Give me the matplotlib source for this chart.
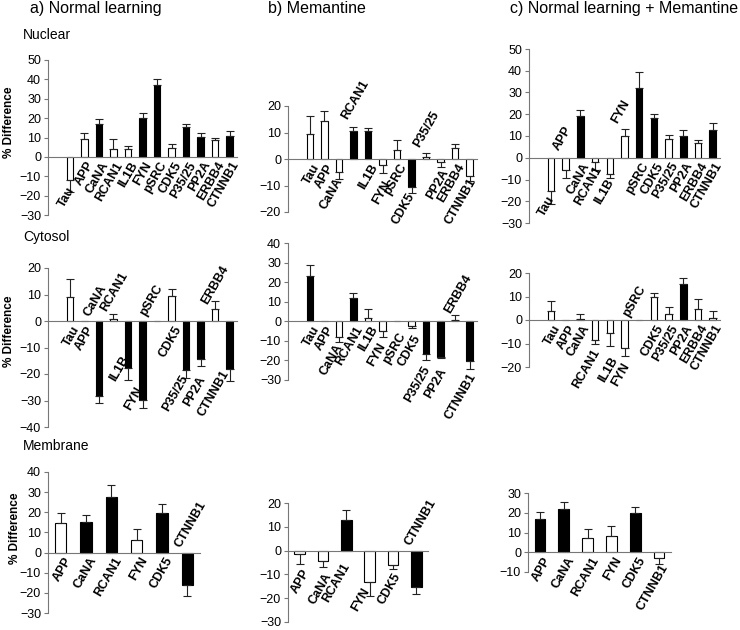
import matplotlib
matplotlib.use('Agg')
import matplotlib.pyplot as plt
import matplotlib.transforms as mtransforms
import numpy as np

plt.rcParams['font.family'] = ['Liberation Sans', 'DejaVu Sans']

W, H = 740, 630

genes = ['Tau', 'APP', 'CaNA', 'RCAN1', 'IL1B', 'FYN', 'pSRC', 'CDK5',
         'P35/25', 'PP2A', 'ERBB4', 'CTNNB1']
mem_genes = ['APP', 'CaNA', 'RCAN1', 'FYN', 'CDK5', 'CTNNB1']

# Nuclear
nuc_a = [-11.7, 9.1, 16.9, 4.0, 4.0, 20.3, 37.0, 4.8, 15.5, 10.2, 8.6, 11.0]
nuc_a_err = [6.5, 3.3, 2.4, 5.0, 1.5, 2.1, 3.4, 2.1, 1.7, 2.2, 1.4, 2.4]
nuc_a_sig = [0, 0, 1, 0, 0, 1, 1, 0, 1, 1, 0, 1]

nuc_b = [9.5, 14.5, -4.8, 10.7, 10.5, -2.3, 3.5, -10.7, 0.8, -1.0, 4.2, -6.3]
nuc_b_err = [6.8, 3.7, 2.8, 1.4, 1.2, 3.0, 3.8, 2.3, 1.5, 2.2, 1.3, 2.1]
nuc_b_sig = [0, 0, 0, 1, 1, 0, 0, 1, 0, 0, 0, 0]

nuc_c = [-15.3, -5.5, 19.0, -2.1, -7.7, 9.8, 32.2, 18.2, 8.4, 10.0, 6.6, 12.9]
nuc_c_err = [5.8, 3.8, 3.0, 3.7, 1.5, 3.5, 7.0, 2.0, 2.2, 2.9, 1.7, 2.9]
nuc_c_sig = [0, 0, 1, 0, 0, 0, 1, 1, 0, 1, 0, 1]

# Cytosol
cyt_a = [9.0, 0, -28.3, 0.9, -17.9, -29.8, 0, 9.6, -18.5, -14.5, 4.5, -18.3]
cyt_a_err = [7.0, 0, 2.5, 1.6, 4.4, 3.1, 0, 2.5, 2.9, 2.5, 3.1, 4.2]
cyt_a_sig = [0, 0, 1, 0, 1, 1, 0, 0, 1, 1, 0, 1]

cyt_b = [23.3, 0, -7.8, 11.9, 1.7, -4.8, 0, -2.2, -16.6, -18.0, 0.7, -20.5]
cyt_b_err = [5.4, 0, 2.6, 2.5, 4.6, 3.3, 0, 1.2, 3.1, 0.8, 2.7, 3.8]
cyt_b_sig = [1, 0, 0, 1, 0, 0, 0, 0, 1, 1, 0, 1]

cyt_c = [4.0, 0, 0.6, -8.4, -5.4, -11.8, 0, 9.8, 2.7, 15.2, 4.7, 0.9]
cyt_c_err = [4.1, 0, 1.8, 2.0, 5.7, 3.5, 0, 1.8, 2.8, 2.5, 4.1, 2.8]
cyt_c_sig = [0, 0, 0, 0, 0, 0, 0, 0, 0, 1, 0, 0]

# Membrane
mem_a = [14.8, 15.2, 27.5, 6.3, 19.8, -16.1]
mem_a_err = [5.0, 3.3, 5.9, 5.2, 4.1, 5.3]
mem_a_sig = [0, 1, 1, 0, 1, 1]

mem_b = [-1.6, -4.2, 12.9, -13.3, -6.2, -15.5]
mem_b_err = [4.0, 2.9, 4.1, 5.6, 1.6, 2.6]
mem_b_sig = [0, 0, 1, 0, 0, 1]

mem_c = [16.7, 22.1, 7.1, 8.3, 19.7, -3.0]
mem_c_err = [3.9, 3.5, 4.5, 5.2, 3.1, 3.1]
mem_c_sig = [1, 1, 0, 0, 1, 0]

# label placement (dx, y, side) for labels not sitting just under the axis
nuc_a_lab = {'Tau': (-0.2, -13, 'below')}
nuc_b_lab = {'CaNA': (-0.3, -5.5, 'below'), 'RCAN1': (-0.25, 14, 'above'),
             'FYN': (0, -6.5, 'below'), 'CDK5': (-0.35, -11, 'below'),
             'P35/25': (-0.3, 3.5, 'above'), 'PP2A': (0, -2, 'below'),
             'CTNNB1': (-0.1, -5.5, 'below')}
nuc_c_lab = {'Tau': (-0.3, -15.5, 'below'), 'APP': (-0.27, 2.5, 'above'),
             'RCAN1': (-0.1, -1.5, 'below'), 'IL1B': (-0.25, -7.5, 'below'),
             'FYN': (-0.35, 15, 'above')}
cyt_a_lab = {'CaNA': (-0.45, 1, 'above'), 'RCAN1': (-0.3, 3, 'above'),
             'IL1B': (-0.5, -11.5, 'below'), 'FYN': (-0.55, -23, 'below'),
             'pSRC': (-0.6, 1, 'above'), 'P35/25': (-0.4, -18.5, 'below'),
             'PP2A': (-0.22, -19, 'below'), 'ERBB4': (-0.35, 5.5, 'above'),
             'CTNNB1': (-0.6, -17, 'below')}
cyt_b_lab = {'CaNA': (-0.3, -9, 'below'), 'FYN': (-0.3, -8.5, 'below'),
             'pSRC': (0.05, -3.5, 'below'), 'CDK5': (0.05, -4.5, 'below'),
             'P35/25': (-0.3, -20.5, 'below'), 'PP2A': (-0.15, -21.5, 'below'),
             'ERBB4': (-0.15, 3, 'above'), 'CTNNB1': (-0.12, -24, 'below')}
cyt_c_lab = {'RCAN1': (-0.2, -10.4, 'below'), 'IL1B': (0, -13.5, 'below'),
             'FYN': (-0.15, -16, 'below'), 'pSRC': (-0.55, 0.6, 'above')}
mem_a_lab = {'CTNNB1': (-0.15, 1.5, 'above')}
mem_b_lab = {'APP': (0.1, -6, 'below'), 'CaNA': (0.05, -7.5, 'below'),
             'RCAN1': (-0.2, -3.4, 'below'), 'FYN': (-0.35, -13.5, 'below'),
             'CDK5': (0, -7.5, 'below'), 'CTNNB1': (-0.15, 1.4, 'above')}
mem_c_lab = {'CTNNB1': (0.05, -3.5, 'below')}

fig = plt.figure(figsize=(W / 100, H / 100), dpi=100)
axis_col = '#777777'


def panel(l, r, t, b, names, vals, errs, sig, ylim, lab, ylabel=False):
    ax = fig.add_axes([l / W, 1 - b / H, (r - l) / W, (b - t) / H])
    n = len(names)
    x = np.arange(1, n + 1)
    vals = np.array(vals, dtype=float)
    errs = np.array(errs, dtype=float)
    cols = ['black' if s else 'white' for s in sig]
    ax.bar(x, vals, width=0.45, color=cols, edgecolor='black', linewidth=0.8, zorder=2)
    m = errs > 0
    lo = np.where(vals < 0, errs, 0)
    hi = np.where(vals >= 0, errs, 0)
    ax.errorbar(x[m], vals[m], yerr=[lo[m], hi[m]], fmt='none', ecolor='#222222',
                elinewidth=0.8, capsize=3, capthick=0.8, zorder=3)
    if n == 12:
        ax.set_xlim(-0.5, 12.5)
    else:
        ax.set_xlim(0.5, n + 0.5)
    ax.set_ylim(*ylim)
    ax.set_yticks(np.arange(ylim[0], ylim[1] + 1, 10))
    ax.tick_params(axis='y', labelsize=9, length=3, width=0.8, color=axis_col, pad=2)
    ax.set_xticks([])
    for s in ['top', 'right']:
        ax.spines[s].set_visible(False)
    ax.spines['left'].set_color(axis_col)
    ax.spines['left'].set_linewidth(0.8)
    ax.spines['bottom'].set_position(('data', 0))
    ax.spines['bottom'].set_color(axis_col)
    ax.spines['bottom'].set_linewidth(0.8)
    ax.patch.set_visible(False)
    down = ax.transData + mtransforms.ScaledTranslation(0, -2 / 72, fig.dpi_scale_trans)
    for xi, name in zip(x, names):
        dx, y, side = lab.get(name, (0.12, 0, 'below'))
        if side == 'below':
            ax.text(xi + dx, y, name, rotation=60, rotation_mode='anchor', ha='right',
                    va='top', fontsize=9, fontweight='bold', transform=down)
        else:
            ax.text(xi + dx, y, name, rotation=60, rotation_mode='anchor', ha='left',
                    va='bottom', fontsize=9, fontweight='bold')
    if ylabel:
        ax.set_ylabel('% Difference', fontsize=8.5, fontweight='bold')
        ax.yaxis.set_label_coords(-0.175, 0.6)
    return ax


panel(48, 237, 60, 215, genes, nuc_a, nuc_a_err, nuc_a_sig, (-30, 50), nuc_a_lab, True)
panel(288, 477, 106, 212, genes, nuc_b, nuc_b_err, nuc_b_sig, (-20, 20), nuc_b_lab)
panel(529, 720, 49, 223, genes, nuc_c, nuc_c_err, nuc_c_sig, (-30, 50), nuc_c_lab)

panel(48, 237, 268, 427, genes, cyt_a, cyt_a_err, cyt_a_sig, (-40, 20), cyt_a_lab, True)
panel(288, 477, 243, 380, genes, cyt_b, cyt_b_err, cyt_b_sig, (-30, 40), cyt_b_lab)
panel(529, 720, 273, 367, genes, cyt_c, cyt_c_err, cyt_c_sig, (-20, 20), cyt_c_lab)

panel(48, 200, 472, 613, mem_genes, mem_a, mem_a_err, mem_a_sig, (-30, 40), mem_a_lab, True)
panel(288, 428, 503, 622, mem_genes, mem_b, mem_b_err, mem_b_sig, (-30, 20), mem_b_lab)
panel(528, 671, 493, 572, mem_genes, mem_c, mem_c_err, mem_c_sig, (-10, 30), mem_c_lab)

# column titles and compartment names
fig.text(30 / W, 1 - 8 / H, 'a) Normal learning', fontsize=11.5, va='center')
fig.text(268 / W, 1 - 8 / H, 'b) Memantine', fontsize=11.5, va='center')
fig.text(510 / W, 1 - 8 / H, 'c) Normal learning + Memantine', fontsize=11.5, va='center')
fig.text(23 / W, 1 - 35 / H, 'Nuclear', fontsize=10, va='center')
fig.text(23 / W, 1 - 237 / H, 'Cytosol', fontsize=10, va='center')
fig.text(23 / W, 1 - 446 / H, 'Membrane', fontsize=10, va='center')

fig.savefig('out.png', dpi=100)
